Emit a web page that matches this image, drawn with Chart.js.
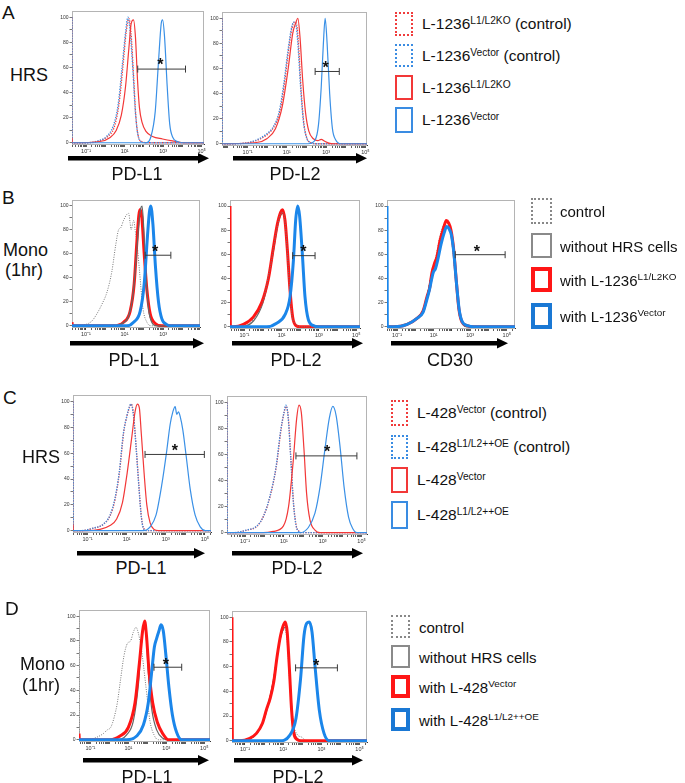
<!DOCTYPE html>
<html>
<head>
<meta charset="utf-8">
<style>
  body { margin: 0; background: #fff; font-family: "Liberation Sans", Arial, sans-serif; color: #111; }
  #fig { position: relative; width: 685px; height: 783px; overflow: hidden; }
  .t { position: absolute; white-space: nowrap; line-height: 1; }
  .c { transform: translate(-50%, -50%); }
  .m { transform: translateY(-50%); }
  .leg { font-size: 15.5px; }
  .leg sup { font-size: 0.66em; vertical-align: 0.55em; line-height: 0; }
  .box { position: absolute; box-sizing: border-box; }
</style>
<script src="https://cdn.jsdelivr.net/npm/chart.js"></script>
</head>
<body>
<div id="fig"></div>
<script>
// x = log10 fluorescence, y = % of max
const xLabelExp = [-1, 1, 3, 5];
const yLabelVals = [0, 20, 40, 60, 80, 100];

// A, HRS, PD-L1
const aL1_vecCtrl = [[-1.73,100],[-1.72,0],[-0.97,0],[-0.28,2],[0.06,5],[0.40,13],[0.66,30],[0.88,62],[1.05,88],[1.17,100],[1.29,88],[1.43,58],[1.56,24],[1.68,7],[1.85,1],[2.11,0],[5.12,0]];
const aL1_koCtrl = [[-1.73,100],[-1.72,0],[-0.9,0],[-0.2,2],[0.12,5],[0.45,12],[0.7,30],[0.92,62],[1.08,88],[1.22,99],[1.33,88],[1.46,55],[1.58,22],[1.7,6],[1.88,1],[2.15,0],[5.12,0]];
const aL1_ko = [[-1.73,4],[-1.71,0],[-0.28,1],[0.23,4],[0.57,10],[0.83,22],[1.05,45],[1.22,75],[1.34,95],[1.46,98],[1.56,85],[1.67,50],[1.77,28],[1.91,16],[2.11,9],[2.45,5],[2.97,3],[3.48,1.5],[4.16,0],[5.12,0]];
const aL1_vec = [[-1.73,0],[2.11,0],[2.37,5],[2.59,25],[2.76,65],[2.9,95],[2.97,98],[3.07,85],[3.21,45],[3.34,15],[3.51,4],[3.74,1],[4.0,0],[5.12,0]];

// A, HRS, PD-L2
const aL2_vecCtrl = [[-2.3,100],[-2.28,0],[-1.77,0],[-0.72,2],[-0.02,8],[0.33,14],[0.6,25],[0.82,45],[1.04,72],[1.21,90],[1.35,97],[1.46,95],[1.56,80],[1.7,45],[1.84,18],[2.0,5],[2.18,1],[2.44,0],[5.08,0]];
const aL2_koCtrl = [[-2.3,100],[-2.28,0],[-1.7,0],[-0.65,2],[0.05,8],[0.4,15],[0.66,27],[0.88,48],[1.1,76],[1.26,92],[1.4,97],[1.5,95],[1.6,78],[1.73,42],[1.87,16],[2.03,4],[2.2,1],[2.46,0],[5.08,0]];
const aL2_ko = [[-2.3,0],[-0.54,1],[-0.02,4],[0.42,12],[0.77,30],[1.07,60],[1.3,88],[1.47,97],[1.56,100],[1.67,85],[1.81,50],[1.95,25],[2.12,10],[2.35,4],[2.58,2.5],[2.75,3.5],[2.93,2],[3.14,0.5],[3.4,0],[5.08,0]];
const aL2_vec = [[-2.3,0],[2.09,0],[2.44,3],[2.61,15],[2.75,45],[2.86,80],[2.95,100],[3.05,80],[3.18,40],[3.32,12],[3.49,3],[3.75,0],[5.08,0]];

// B, monocytes, PD-L1
const bL1_ctrl = [[-1.72,0],[-1.47,0],[-1.03,1],[-0.69,4],[-0.43,10],[-0.17,18],[0.09,28],[0.34,45],[0.55,68],[0.69,80],[0.81,82],[0.95,88],[1.12,93],[1.21,94],[1.29,86],[1.34,80],[1.43,86],[1.48,88],[1.55,80],[1.64,70],[1.78,45],[1.95,15],[2.16,3],[2.41,0],[4.91,0]];
const bL1_noHrs = [[-1.72,0],[0.43,0],[0.86,2],[1.21,8],[1.43,25],[1.6,55],[1.74,85],[1.84,98],[1.91,100],[2.0,80],[2.1,45],[2.24,15],[2.41,3],[2.67,0],[4.91,0]];
const bL1_ko = [[-1.72,3],[-1.7,0],[0.43,0],[0.95,3],[1.29,12],[1.5,35],[1.64,70],[1.74,92],[1.81,97],[1.9,90],[2.02,60],[2.16,30],[2.33,10],[2.59,2],[2.93,0],[4.91,0]];
const bL1_vec = [[-1.72,0],[1.12,0],[1.47,3],[1.81,12],[2.02,35],[2.19,75],[2.29,95],[2.36,100],[2.47,85],[2.6,50],[2.76,20],[2.93,6],[3.19,1],[3.45,0],[4.91,0]];

// B, monocytes, PD-L2
const bL2_ctrl = [[-1.77,0],[-1.23,0],[-0.52,6],[0.02,22],[0.29,42],[0.46,55],[0.73,80],[1.0,95],[1.13,92],[1.27,70],[1.41,35],[1.55,10],[1.77,2],[1.98,0],[5.2,0]];
const bL2_noHrs = [[-1.77,0],[-1.2,0],[-0.5,5],[0.0,20],[0.3,40],[0.55,62],[0.8,85],[1.05,94],[1.16,90],[1.3,65],[1.44,30],[1.58,8],[1.8,1],[2.0,0],[5.2,0]];
const bL2_ko = [[-1.77,100],[-1.75,0],[-1.59,0],[-1.05,2],[-0.52,8],[-0.07,20],[0.29,40],[0.55,65],[0.77,85],[0.95,95],[1.05,97],[1.18,88],[1.3,65],[1.45,30],[1.59,8],[1.77,1],[1.98,0],[5.2,0]];
const bL2_vec = [[-1.77,0],[0.2,0],[0.73,3],[1.18,10],[1.45,25],[1.63,55],[1.75,88],[1.86,100],[1.96,92],[2.11,60],[2.25,25],[2.43,6],[2.7,1],[2.96,0],[5.2,0]];

// B, monocytes, CD30
const bCD30_ctrl = [[-1.55,0],[-1.1,0],[-0.4,2],[0.1,8],[0.45,15],[0.66,27],[0.85,42],[1.0,50],[1.15,60],[1.34,75],[1.52,84],[1.66,86],[1.8,85],[1.93,78],[2.07,60],[2.22,35],[2.36,13],[2.53,3],[2.8,0],[5.45,0]];
const bCD30_noHrs = [[-1.55,0],[-1.15,0],[-0.45,2],[0.08,7],[0.42,13],[0.64,25],[0.9,44],[1.05,52],[1.2,59],[1.37,73],[1.55,83],[1.7,87],[1.83,85],[1.96,78],[2.1,62],[2.25,35],[2.4,13],[2.57,3],[2.85,0],[5.45,0]];
const bCD30_ko = [[-1.55,0],[-1.18,0],[-0.45,2],[0.09,7],[0.42,13],[0.64,25],[0.78,32],[0.91,45],[1.04,52],[1.18,58],[1.36,72],[1.55,82],[1.69,88],[1.82,86],[1.95,80],[2.09,65],[2.24,38],[2.38,15],[2.55,4],[2.82,1],[3.18,0],[5.45,0]];
const bCD30_vec = [[-1.55,100],[-1.53,0],[-1.15,0],[-0.45,2],[0.09,7],[0.42,12],[0.62,22],[0.76,30],[0.9,40],[0.98,45],[1.1,48],[1.22,55],[1.4,68],[1.58,78],[1.72,83],[1.85,81],[1.97,76],[2.1,62],[2.25,36],[2.4,14],[2.57,4],[2.85,1],[3.2,0],[5.45,0]];

// C, HRS, PD-L1
const cL1_vecCtrl = [[-1.74,100],[-1.72,0],[-1.35,0],[-0.68,2],[-0.18,5],[0.17,12],[0.42,25],[0.64,46],[0.85,76],[1.02,89],[1.16,96],[1.24,98],[1.36,89],[1.5,62],[1.64,32],[1.76,10],[1.87,2],[2.05,0],[5.31,0]];
const cL1_oeCtrl = [[-1.74,100],[-1.72,0],[-1.39,0],[-0.71,2],[-0.2,5],[0.15,12],[0.4,25],[0.62,45],[0.83,75],[1.0,88],[1.14,96],[1.22,98],[1.34,90],[1.48,65],[1.62,35],[1.74,12],[1.85,2],[2.03,0],[5.31,0]];
const cL1_vec = [[-1.74,5],[-1.72,0],[-1.05,0],[-0.37,1],[0.15,4],[0.49,9],[0.79,22],[1.03,45],[1.26,72],[1.43,92],[1.55,98],[1.65,95],[1.75,75],[1.89,45],[2.03,20],[2.2,6],[2.4,1],[2.62,0],[5.31,0]];
const cL1_oe = [[-1.74,0],[1.85,0],[2.2,3],[2.5,12],[2.79,35],[3.05,62],[3.22,82],[3.36,92],[3.48,96],[3.56,90],[3.65,92],[3.74,88],[3.87,78],[4.04,58],[4.25,32],[4.5,12],[4.76,3],[5.02,0],[5.31,0]];

// C, HRS, PD-L2
const cL2_vecCtrl = [[-1.93,100],[-1.91,0],[-1.6,0],[-0.9,2],[-0.38,5],[-0.04,13],[0.31,29],[0.62,52],[0.86,80],[1.02,93],[1.12,97],[1.23,88],[1.36,57],[1.5,22],[1.64,5],[1.78,1],[1.93,0],[5.28,0]];
const cL2_oeCtrl = [[-1.93,100],[-1.91,0],[-1.62,0],[-0.93,2],[-0.41,5],[-0.07,12],[0.28,28],[0.59,50],[0.83,78],[1.0,92],[1.1,98],[1.21,90],[1.34,60],[1.48,25],[1.62,6],[1.76,1],[1.91,0],[5.28,0]];
const cL2_vec = [[-1.93,0],[-0.07,0],[0.45,1],[0.97,5],[1.24,20],[1.48,55],[1.66,88],[1.78,98],[1.9,92],[2.03,65],[2.17,30],[2.34,10],[2.6,2],[2.86,0],[5.28,0]];
const cL2_oe = [[-1.93,0],[1.83,0],[2.26,4],[2.6,15],[2.86,35],[3.12,65],[3.34,88],[3.52,97],[3.69,90],[3.9,65],[4.1,35],[4.33,12],[4.55,3],[4.76,0],[5.28,0]];

// D, monocytes, PD-L1
const dL1_ctrl = [[-1.6,100],[-1.58,0],[-1.19,0],[-0.67,2],[-0.32,5],[-0.11,8],[0.07,10],[0.25,18],[0.42,30],[0.6,50],[0.77,68],[0.95,78],[1.12,80],[1.26,87],[1.4,91],[1.53,86],[1.7,72],[1.91,45],[2.14,15],[2.35,4],[2.58,0],[5.3,0]];
const dL1_noHrs = [[-1.6,0],[0.39,0],[0.91,4],[1.26,15],[1.53,45],[1.7,80],[1.82,93],[1.91,90],[2.05,55],[2.23,25],[2.49,8],[2.84,1],[3.1,0],[5.3,0]];
const dL1_vec = [[-1.6,5],[-1.58,0],[0.04,0],[0.56,3],[1.0,10],[1.35,30],[1.58,62],[1.75,88],[1.86,96],[1.95,85],[2.09,55],[2.28,30],[2.53,14],[2.81,5],[3.11,0],[5.3,0]];
const dL1_oe = [[-1.6,0],[0.91,0],[1.44,3],[1.79,12],[2.05,30],[2.23,55],[2.37,75],[2.49,82],[2.61,88],[2.72,93],[2.84,88],[2.98,68],[3.14,42],[3.32,20],[3.54,6],[3.81,0],[5.3,0]];

// D, monocytes, PD-L2
const dL2_ctrl = [[-1.68,0],[-1.1,0],[-0.4,5],[-0.05,15],[0.21,30],[0.47,48],[0.74,75],[0.96,88],[1.09,90],[1.21,80],[1.35,45],[1.53,15],[1.74,5],[1.96,3],[2.23,0],[5.39,0]];
const dL2_noHrs = [[-1.68,0],[-1.2,0],[-0.6,3],[-0.1,13],[0.2,28],[0.5,50],[0.78,78],[1.0,90],[1.12,92],[1.24,80],[1.38,42],[1.55,10],[1.8,1],[2.0,0],[5.39,0]];
const dL2_vec = [[-1.68,100],[-1.66,0],[-1.28,0],[-0.75,2],[-0.4,6],[-0.09,14],[0.12,25],[0.33,35],[0.51,48],[0.68,68],[0.86,85],[1.0,93],[1.11,96],[1.21,88],[1.32,60],[1.44,25],[1.56,6],[1.74,1],[1.96,0],[5.39,0]];
const dL2_oe = [[-1.68,0],[0.82,0],[1.32,4],[1.67,18],[1.91,50],[2.09,85],[2.23,95],[2.37,96],[2.51,88],[2.67,60],[2.89,25],[3.14,6],[3.42,0],[5.39,0]];

// significance bars [from, to, height] and star [x, y]
const barA1 = [1.68, 4.16, 58.7], starA1 = [2.85, 65];
const barA2 = [2.44, 3.67, 57.6], starA2 = [2.97, 64];
const barB1 = [2.07, 3.4, 58.9],  starB1 = [2.59, 65];
const barB2 = [1.59, 2.79, 58.9], starB2 = [2.16, 65];
const barB3 = [2.18, 4.91, 59.7], starB3 = [3.36, 65];
const barC1 = [1.94, 4.97, 59],   starC1 = [3.46, 65];
const barC2 = [1.62, 4.76, 59],   starC2 = [3.22, 65];
const barD1 = [2.35, 3.81, 58.7], starD1 = [2.98, 64];
const barD2 = [1.65, 3.84, 59],   starD2 = [2.72, 64];

const legendA = ['L-1236<sup>L1/L2KO</sup> (control)', 'L-1236<sup>Vector</sup> (control)', 'L-1236<sup>L1/L2KO</sup>', 'L-1236<sup>Vector</sup>'];
const legendB = ['control', 'without HRS cells', 'with L-1236<sup>L1/L2KO</sup>', 'with L-1236<sup>Vector</sup>'];
const legendC = ['L-428<sup>Vector</sup> (control)', 'L-428<sup>L1/L2++OE</sup> (control)', 'L-428<sup>Vector</sup>', 'L-428<sup>L1/L2++OE</sup>'];
const legendD = ['control', 'without HRS cells', 'with L-428<sup>Vector</sup>', 'with L-428<sup>L1/L2++OE</sup>'];

// ---------- styles and layout ----------
const styles = {
  redDot:   { borderColor: '#f03c3c', borderWidth: 1.3, borderDash: [1.3, 1.3] },
  blueDot:  { borderColor: '#3a8ce2', borderWidth: 1.3, borderDash: [1.3, 1.3] },
  red:      { borderColor: '#f23838', borderWidth: 1.2 },
  blue:     { borderColor: '#3a90e6', borderWidth: 1.2 },
  grayDot:  { borderColor: '#777', borderWidth: 1, borderDash: [1, 1.4] },
  gray:     { borderColor: '#666', borderWidth: 1.2 },
  redThick: { borderColor: '#ff1616', borderWidth: 3 },
  blueThick:{ borderColor: '#1b86ea', borderWidth: 3 }
};

// first curve is drawn on top
const panels = [
  { frame: [72, 10, 204, 144], xr: [-1.73, 5.12], bar: barA1, star: starA1,
    curves: [[aL1_vec, 'blue'], [aL1_ko, 'red'], [aL1_vecCtrl, 'blueDot'], [aL1_koCtrl, 'redDot']] },
  { frame: [222, 11, 367, 145], xr: [-2.3, 5.08], bar: barA2, star: starA2,
    curves: [[aL2_vec, 'blue'], [aL2_ko, 'red'], [aL2_vecCtrl, 'blueDot'], [aL2_koCtrl, 'redDot']] },
  { frame: [72, 199, 200, 327], xr: [-1.72, 4.91], bar: barB1, star: starB1,
    curves: [[bL1_vec, 'blueThick'], [bL1_noHrs, 'gray'], [bL1_ko, 'redThick'], [bL1_ctrl, 'grayDot']] },
  { frame: [230, 199, 360, 328], xr: [-1.77, 5.2], bar: barB2, star: starB2,
    curves: [[bL2_vec, 'blueThick'], [bL2_ctrl, 'grayDot'], [bL2_ko, 'redThick'], [bL2_noHrs, 'gray']] },
  { frame: [387, 199, 515, 328], xr: [-1.55, 5.45], bar: barB3, star: starB3,
    curves: [[bCD30_vec, 'blueThick'], [bCD30_ko, 'redThick'], [bCD30_noHrs, 'gray'], [bCD30_ctrl, 'grayDot']] },
  { frame: [73, 394, 211, 532], xr: [-1.74, 5.31], bar: barC1, star: starC1,
    curves: [[cL1_oe, 'blue'], [cL1_vec, 'red'], [cL1_oeCtrl, 'blueDot'], [cL1_vecCtrl, 'redDot']] },
  { frame: [227, 395, 367, 534], xr: [-1.93, 5.28], bar: barC2, star: starC2,
    curves: [[cL2_oe, 'blue'], [cL2_vec, 'red'], [cL2_oeCtrl, 'blueDot'], [cL2_vecCtrl, 'redDot']] },
  { frame: [79, 609, 210, 741], xr: [-1.6, 5.3], bar: barD1, star: starD1,
    curves: [[dL1_oe, 'blueThick'], [dL1_vec, 'redThick'], [dL1_noHrs, 'gray'], [dL1_ctrl, 'grayDot']] },
  { frame: [232, 610, 367, 742], xr: [-1.68, 5.39], bar: barD2, star: starD2,
    curves: [[dL2_oe, 'blueThick'], [dL2_vec, 'redThick'], [dL2_noHrs, 'gray'], [dL2_ctrl, 'grayDot']] }
];

const fig = document.getElementById('fig');
const SUP = { '-1': '\u207B\u00B9', '1': '\u00B9', '3': '\u00B3', '5': '\u2075' };

function logTicks(min, max) {
  const out = [];
  for (let d = Math.floor(min); d <= Math.ceil(max); d++) {
    for (let k = 1; k <= 9; k++) {
      const v = d + Math.log10(k);
      if (v >= min && v <= max) out.push({ value: v });
    }
  }
  return out;
}

const framePlugin = {
  id: 'frame',
  beforeDatasetsDraw(chart) {
    const a = chart.chartArea, ctx = chart.ctx;
    ctx.save();
    ctx.strokeStyle = '#b4b4b4';
    ctx.lineWidth = 1;
    ctx.strokeRect(a.left + 0.5, a.top + 0.5, a.right - a.left - 1, a.bottom - a.top);
    ctx.restore();
  }
};

const starPlugin = {
  id: 'star',
  afterDatasetsDraw(chart, args, opts) {
    const ctx = chart.ctx, size = 16;
    const x = chart.scales.x.getPixelForValue(opts.at[0]);
    const y = chart.scales.y.getPixelForValue(opts.at[1]);
    ctx.save();
    ctx.fillStyle = '#111';
    ctx.font = 'bold ' + size + 'px "Liberation Sans", Arial';
    ctx.textAlign = 'center';
    ctx.textBaseline = 'alphabetic';
    ctx.fillText('*', x, y + size * 0.57);
    ctx.restore();
  }
};

function makePanel(p) {
  const yW = 16, xH = 13, padT = 4, padR = 8;
  const [l, t, r, b] = p.frame;
  const wrap = document.createElement('div');
  wrap.style.cssText = `position:absolute;left:${l - yW}px;top:${t - padT}px;width:${r - l + yW + padR}px;height:${b - t + padT + xH}px`;
  const cv = document.createElement('canvas');
  wrap.appendChild(cv);
  fig.appendChild(wrap);

  const datasets = [{
    data: [{ x: p.bar[0], y: p.bar[2] }, { x: p.bar[1], y: p.bar[2] }],
    borderColor: '#3a3a3a', borderWidth: 1,
    pointStyle: 'line', rotation: 90, pointRadius: 3.5,
    pointBorderColor: '#3a3a3a', pointBorderWidth: 1
  }].concat(p.curves.map(([pts, st]) => Object.assign({
    data: pts.map(([x, y]) => ({ x, y })),
    pointRadius: 0, fill: false, cubicInterpolationMode: 'monotone'
  }, styles[st])));

  new Chart(cv, {
    type: 'line',
    data: { datasets },
    options: {
      responsive: true, maintainAspectRatio: false, animation: false,
      layout: { padding: { top: padT, right: padR, left: 0, bottom: 0 } },
      plugins: { legend: { display: false }, tooltip: { enabled: false }, star: { at: p.star } },
      scales: {
        x: {
          type: 'linear', min: p.xr[0], max: p.xr[1],
          afterBuildTicks: ax => { ax.ticks = logTicks(p.xr[0], p.xr[1]); },
          afterFit: ax => { ax.height = xH; },
          grid: { drawOnChartArea: false, tickLength: 3, color: '#333', tickWidth: 0.8 },
          border: { color: '#333', width: 1 },
          ticks: {
            autoSkip: false, maxRotation: 0, padding: 1, color: '#333',
            font: { size: 5.5, family: '"Liberation Sans", Arial' },
            callback: v => {
              const e = Math.round(v);
              return Math.abs(v - e) < 1e-6 && xLabelExp.includes(e) ? '10' + SUP[e] : '';
            }
          }
        },
        y: {
          min: -1, max: 105,
          afterBuildTicks: ax => {
            const tk = [];
            for (let v = 0; v <= 100; v += 5) tk.push({ value: v });
            ax.ticks = tk;
          },
          afterFit: ax => { ax.width = yW; },
          grid: { drawOnChartArea: false, tickLength: 2.5, color: '#555', tickWidth: 0.8 },
          border: { color: '#888', width: 1 },
          ticks: {
            padding: 1, color: '#333',
            font: { size: 5, family: '"Liberation Sans", Arial' },
            callback: v => yLabelVals.includes(v) ? String(v) : ''
          }
        }
      }
    },
    plugins: [framePlugin, starPlugin]
  });
}

panels.forEach(makePanel);

// ---------- arrows, labels, legends ----------
function arrow(x1, x2, yc) {
  const w = x2 - x1;
  const s = document.createElementNS('http://www.w3.org/2000/svg', 'svg');
  s.setAttribute('width', w); s.setAttribute('height', 12);
  s.style.cssText = `position:absolute;left:${x1}px;top:${yc - 6}px`;
  s.innerHTML = `<rect x="0" y="4" width="${w - 10}" height="4.5" fill="#000"/><polygon points="${w - 11},1 ${w},6.2 ${w - 11},11.4" fill="#000"/>`;
  fig.appendChild(s);
}
[[68, 209, 158], [233, 367, 158],
 [70, 204, 343], [232, 363, 343], [391, 508, 343],
 [77, 205, 553], [232, 363, 553],
 [83, 209, 760], [234, 363, 760]].forEach(a => arrow(...a));

function text(str, x, y, size, cls) {
  const d = document.createElement('div');
  d.className = 't ' + cls;
  d.style.left = x + 'px'; d.style.top = y + 'px'; d.style.fontSize = size + 'px';
  d.innerHTML = str;
  fig.appendChild(d);
}
// panel letters and row labels (left, center y)
text('A', 2, 12, 19, 'm'); text('HRS', 10, 75, 18, 'm');
text('B', 2, 197, 19, 'm'); text('Mono', 3, 250, 18, 'm'); text('(1hr)', 5, 270, 18, 'm');
text('C', 3, 397, 19, 'm'); text('HRS', 22, 457, 18, 'm');
text('D', 5, 608, 19, 'm'); text('Mono', 20, 664, 18, 'm'); text('(1hr)', 22, 685, 18, 'm');
// axis titles (center)
text('PD-L1', 137, 174, 18, 'c'); text('PD-L2', 295, 174, 18, 'c');
text('PD-L1', 134, 360, 18, 'c'); text('PD-L2', 296, 360, 18, 'c'); text('CD30', 450, 360, 18, 'c');
text('PD-L1', 141, 568, 18, 'c'); text('PD-L2', 297, 568, 18, 'c');
text('PD-L1', 147, 777, 18, 'c'); text('PD-L2', 298, 777, 18, 'c');

function legend(labels, boxX, boxW, rows, textX, boxStyles, fs) {
  labels.forEach((lab, i) => {
    const [y1, y2] = rows[i];
    const b = document.createElement('div');
    b.className = 'box';
    b.style.cssText += `left:${boxX}px;top:${y1}px;width:${boxW}px;height:${y2 - y1}px;border:${boxStyles[i]}`;
    fig.appendChild(b);
    text(lab, textX, (y1 + y2) / 2, fs, 'm leg');
  });
}
const thinBoxes = ['2px dotted #f03c3c', '2px dotted #3a8ce2', '2px solid #f23838', '2px solid #3a8ce2'];
const thickBoxes = ['2px dotted #888', '2.5px solid #8a8a8a', '4px solid #ff1616', '4px solid #1a78d4'];
legend(legendA, 395, 18, [[12, 36], [44, 67], [75, 100], [107, 133]], 422, thinBoxes, 15.5);
legend(legendB, 531, 21, [[198, 224], [233, 258], [267, 292], [303, 329]], 560, thickBoxes, 15);
legend(legendC, 391, 17, [[400, 426], [435, 459], [467, 493], [501, 529]], 417, thinBoxes, 15.5);
legend(legendD, 391, 19, [[615, 638], [645, 668], [675, 698], [708, 731]], 419, thickBoxes, 15);
</script>
</body>
</html>
